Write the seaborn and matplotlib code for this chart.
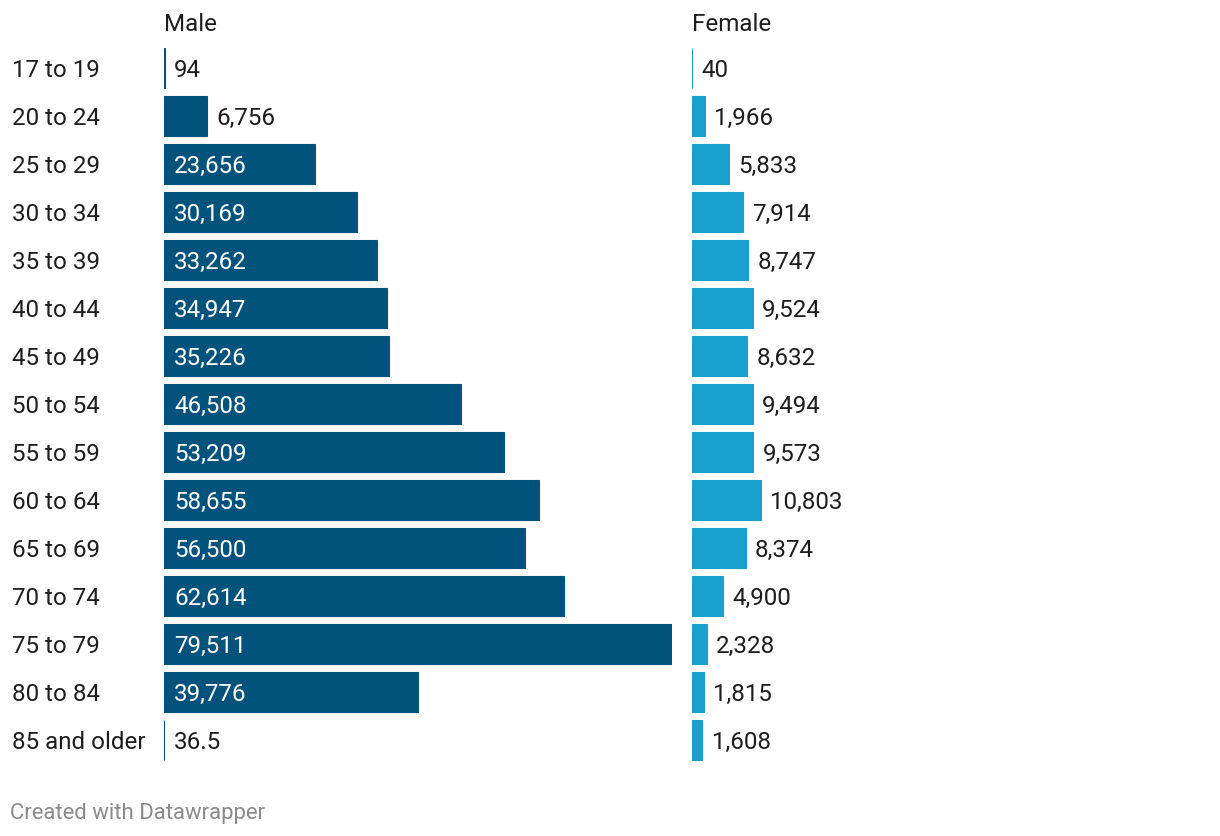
import matplotlib
matplotlib.use("Agg")
import matplotlib.pyplot as plt
import matplotlib.transforms as mtransforms
import seaborn as sns
import pandas as pd

ages = ["17 to 19", "20 to 24", "25 to 29", "30 to 34", "35 to 39", "40 to 44",
        "45 to 49", "50 to 54", "55 to 59", "60 to 64", "65 to 69", "70 to 74",
        "75 to 79", "80 to 84", "85 and older"]
male = [94, 6756, 23656, 30169, 33262, 34947, 35226, 46508, 53209, 58655,
        56500, 62614, 79511, 39776, 36.5]
female = [40, 1966, 5833, 7914, 8747, 9524, 8632, 9494, 9573, 10803,
          8374, 4900, 2328, 1815, 1608]
panel_titles = ["Male", "Female"]
footer = "Created with Datawrapper"

MALE_C = "#01537b"
FEMALE_C = "#19a0cf"
TEXT_C = "#1d1d1d"

sns.set_theme(style="white")
plt.rcParams["font.family"] = ["Roboto", "DejaVu Sans"]

W, H = 1220, 836
fig = plt.figure(figsize=(W / 100, H / 100), dpi=100)

ax_top, ax_bot = 44, 764
panels = [(164, 508), (692, 508)]
xmax = max(male)
FS = 17.4
DY = -1.6  # points, small downward nudge for text

def fmt(v):
    if float(v).is_integer():
        return f"{int(v):,}"
    return f"{v:g}"

df = pd.DataFrame({"age": ages, "male": male, "female": female})
axes = []
for (left, width), col, color, title in zip(panels, ["male", "female"],
                                            [MALE_C, FEMALE_C], panel_titles):
    ax = fig.add_axes([left / W, 1 - ax_bot / H, width / W, (ax_bot - ax_top) / H])
    sns.barplot(data=df, x=col, y="age", orient="h", color=color, width=40 / 48,
                saturation=1, edgecolor=color, linewidth=0.8, ax=ax)
    ax.set_xlim(0, xmax)
    ax.set_ylim(len(ages) - 0.5, -0.5)
    ax.set_xlabel("")
    ax.set_ylabel("")
    ax.set_xticks([])
    ax.set_yticks([])
    for s in ax.spines.values():
        s.set_visible(False)
    ax.patch.set_alpha(0)
    # values
    for i, v in enumerate(df[col]):
        label = fmt(v)
        if col == "male" and v > 15000:
            ax.annotate(label, xy=(0, i), xytext=(7.3, DY), textcoords="offset points",
                        ha="left", va="center", color="white", fontsize=FS)
        else:
            ax.annotate(label, xy=(v, i), xytext=(6.8, DY), textcoords="offset points",
                        ha="left", va="center", color=TEXT_C, fontsize=FS)
    fig.text(left / W, 1 - 24.5 / H, title, ha="left", va="center",
             color=TEXT_C, fontsize=FS)
    axes.append(ax)

# age labels
trans = mtransforms.blended_transform_factory(fig.transFigure, axes[0].transData)
for i, a in enumerate(ages):
    axes[0].annotate(a, xy=(12 / W, i), xycoords=trans, xytext=(0, DY),
                     textcoords="offset points", ha="left", va="center",
                     color=TEXT_C, fontsize=FS)

fig.text(10 / W, 1 - 813 / H, footer, ha="left", va="center",
         color="#8a8a8a", fontsize=15.9)

fig.savefig("out.png", dpi=100, facecolor="white")
